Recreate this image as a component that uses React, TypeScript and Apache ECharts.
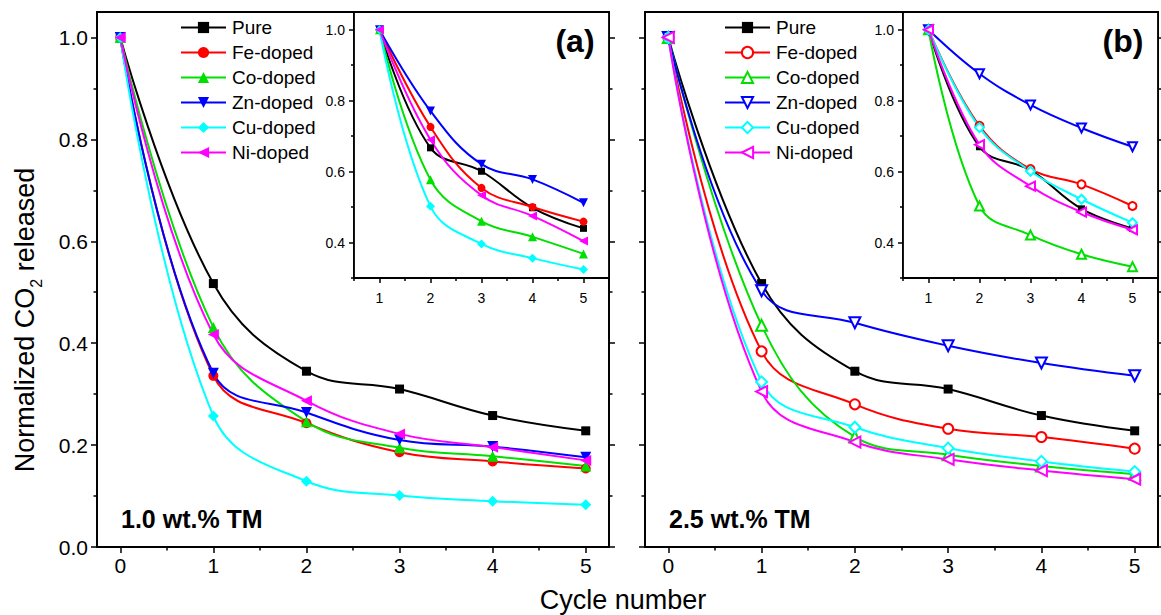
import React, { useEffect, useRef } from 'react';
import * as echarts from 'echarts';

// ---------- DATA ----------
const seriesNames = ['Pure', 'Fe-doped', 'Co-doped', 'Zn-doped', 'Cu-doped', 'Ni-doped'];
const colors = ['#000000', '#ff0000', '#00e000', '#0000ff', '#00ffff', '#ff00ff'];

const mainCycles = [0, 1, 2, 3, 4, 5];
const insetCycles = [1, 2, 3, 4, 5];

// Panel (a): 1.0 wt.% TM
const aPure = [1.0, 0.517, 0.345, 0.310, 0.258, 0.228];
const aFe = [1.0, 0.336, 0.243, 0.186, 0.168, 0.154];
const aCo = [1.0, 0.431, 0.246, 0.195, 0.178, 0.159];
const aZn = [1.0, 0.341, 0.264, 0.210, 0.197, 0.176];
const aCu = [1.0, 0.257, 0.129, 0.101, 0.090, 0.083];
const aNi = [1.0, 0.417, 0.287, 0.222, 0.196, 0.170];

// Inset (a)
const aInPure = [1.0, 0.667, 0.601, 0.498, 0.440];
const aInFe = [1.0, 0.726, 0.554, 0.500, 0.459];
const aInCo = [1.0, 0.577, 0.460, 0.416, 0.368];
const aInZn = [1.0, 0.771, 0.621, 0.578, 0.512];
const aInCu = [1.0, 0.502, 0.396, 0.356, 0.324];
const aInNi = [1.0, 0.690, 0.533, 0.475, 0.404];

// Panel (b): 2.5 wt.% TM
const bPure = [1.0, 0.517, 0.345, 0.310, 0.258, 0.228];
const bFe = [1.0, 0.384, 0.280, 0.232, 0.216, 0.193];
const bCo = [1.0, 0.435, 0.216, 0.181, 0.159, 0.143];
const bZn = [1.0, 0.503, 0.440, 0.395, 0.361, 0.336];
const bCu = [1.0, 0.324, 0.235, 0.194, 0.168, 0.148];
const bNi = [1.0, 0.305, 0.206, 0.172, 0.150, 0.133];

// Inset (b)
const bInPure = [1.0, 0.670, 0.604, 0.495, 0.440];
const bInFe = [1.0, 0.729, 0.607, 0.564, 0.503];
const bInCo = [1.0, 0.503, 0.421, 0.367, 0.332];
const bInZn = [1.0, 0.876, 0.788, 0.723, 0.670];
const bInCu = [1.0, 0.724, 0.601, 0.522, 0.456];
const bInNi = [1.0, 0.676, 0.559, 0.486, 0.436];

// Tick values
const mainXTicks = [0, 1, 2, 3, 4, 5];
const mainXMinor = [0.5, 1.5, 2.5, 3.5, 4.5];
const mainYTicks = [0, 0.2, 0.4, 0.6, 0.8, 1.0];
const mainYMinor = [0.1, 0.3, 0.5, 0.7, 0.9];
const insetXTicks = [1, 2, 3, 4, 5];
const insetXMinor = [0.5, 1.5, 2.5, 3.5, 4.5, 5.5];
const insetYTicks = [0.4, 0.6, 0.8, 1.0];
const insetYMinor = [0.3, 0.5, 0.7, 0.9];

const FONT = "'Liberation Sans', Arial, sans-serif";

const symbolsA = ['rect', 'circle', 'triangle', 'triangle', 'diamond', 'triangle'];
const symbolsB = ['rect', 'emptyCircle', 'emptyTriangle', 'emptyTriangle', 'emptyDiamond', 'emptyTriangle'];
const rotations = [0, 0, 0, 180, 0, 90];
const mainSizes = [9, 10, 11, 11, 11, 11];
const insetSizes = [7, 8, 9, 9, 9, 9];

function xAxisDef(grid: number, min: number, max: number, ticks: number[], tickLen: number, showLine: boolean, label: any) {
  return {
    type: 'value', gridIndex: grid, min, max, position: 'bottom',
    axisLine: { show: showLine, onZero: false, lineStyle: { color: '#000', width: 1.8 } },
    axisTick: { show: true, inside: false, length: tickLen, customValues: ticks, lineStyle: { color: '#000', width: 1.5 } },
    axisLabel: label ? { show: true, ...label } : { show: false },
    splitLine: { show: false },
  };
}

function yAxisDef(grid: number, min: number, max: number, pos: string, ticks: number[], tickLen: number, showLine: boolean, label: any) {
  return {
    type: 'value', gridIndex: grid, min, max, position: pos,
    axisLine: { show: showLine, onZero: false, lineStyle: { color: '#000', width: 1.8 } },
    axisTick: { show: true, inside: false, length: tickLen, customValues: ticks, lineStyle: { color: '#000', width: 1.5 } },
    axisLabel: label ? { show: true, ...label } : { show: false },
    splitLine: { show: false },
  };
}

export default function App() {
  const ref = useRef<HTMLDivElement>(null);

  useEffect(() => {
    if (!ref.current) return;
    const chart = echarts.init(ref.current, undefined, { renderer: 'svg' });

    const mainA = [aPure, aFe, aCo, aZn, aCu, aNi];
    const mainB = [bPure, bFe, bCo, bZn, bCu, bNi];
    const inA = [aInPure, aInFe, aInCo, aInZn, aInCu, aInNi];
    const inB = [bInPure, bInFe, bInCo, bInZn, bInCu, bInNi];

    const mainXLabel = { customValues: mainXTicks, fontSize: 21, color: '#000', fontFamily: FONT, margin: 8, formatter: (v: number) => String(v) };
    const mainYLabel = { customValues: mainYTicks, fontSize: 21, color: '#000', fontFamily: FONT, margin: 9, formatter: (v: number) => v.toFixed(1) };
    const inXLabel = { customValues: insetXTicks, fontSize: 14, color: '#000', fontFamily: FONT, margin: 13, formatter: (v: number) => String(v) };
    const inYLabel = { customValues: insetYTicks, fontSize: 14, color: '#000', fontFamily: FONT, margin: 9, formatter: (v: number) => v.toFixed(1) };

    const xAxes = [
      xAxisDef(0, -0.25, 5.25, mainXTicks, 6, true, mainXLabel),
      xAxisDef(0, -0.25, 5.25, mainXMinor, 3.5, false, null),
      xAxisDef(1, -0.25, 5.25, mainXTicks, 6, true, mainXLabel),
      xAxisDef(1, -0.25, 5.25, mainXMinor, 3.5, false, null),
      xAxisDef(2, 0.5, 5.5, insetXTicks, 5, true, inXLabel),
      xAxisDef(2, 0.5, 5.5, insetXMinor, 3, false, null),
      xAxisDef(3, 0.5, 5.5, insetXTicks, 5, true, inXLabel),
      xAxisDef(3, 0.5, 5.5, insetXMinor, 3, false, null),
    ];

    const yAxes = [
      yAxisDef(0, 0, 1.05, 'left', mainYTicks, 6, true, mainYLabel),
      yAxisDef(0, 0, 1.05, 'left', mainYMinor, 3.5, false, null),
      yAxisDef(0, 0, 1.05, 'right', mainYTicks, 6, true, null),
      yAxisDef(0, 0, 1.05, 'right', mainYMinor, 3.5, false, null),
      yAxisDef(1, 0, 1.05, 'left', mainYTicks, 6, true, null),
      yAxisDef(1, 0, 1.05, 'left', mainYMinor, 3.5, false, null),
      yAxisDef(1, 0, 1.05, 'right', mainYTicks, 6, true, null),
      yAxisDef(1, 0, 1.05, 'right', mainYMinor, 3.5, false, null),
      yAxisDef(2, 0.3, 1.05, 'left', insetYTicks, 5, true, inYLabel),
      yAxisDef(2, 0.3, 1.05, 'left', insetYMinor, 3, false, null),
      yAxisDef(3, 0.3, 1.05, 'left', insetYTicks, 5, true, inYLabel),
      yAxisDef(3, 0.3, 1.05, 'left', insetYMinor, 3, false, null),
    ];

    const series: any[] = [];
    const mk = (prefix: string, vals: number[][], xs: number[], xi: number, yi: number, syms: string[], sizes: number[], z: number) => {
      vals.forEach((v, i) => {
        series.push({
          name: prefix + seriesNames[i],
          type: 'line',
          xAxisIndex: xi,
          yAxisIndex: yi,
          data: xs.map((x, k) => [x, v[k]]),
          smooth: 0.4,
          symbol: syms[i],
          symbolSize: sizes[i],
          symbolRotate: rotations[i],
          color: colors[i],
          lineStyle: { color: colors[i], width: 2 },
          itemStyle: { color: colors[i] },
          z,
        });
      });
    };
    mk('a:', mainA, mainCycles, 0, 0, symbolsA, mainSizes, 2);
    mk('b:', mainB, mainCycles, 2, 4, symbolsB, mainSizes, 2);
    mk('ai:', inA, insetCycles, 4, 8, symbolsA, insetSizes, 6);
    mk('bi:', inB, insetCycles, 6, 10, symbolsB, insetSizes, 6);

    const legendBase = {
      orient: 'vertical',
      top: 13,
      itemWidth: 45,
      itemHeight: 14,
      itemGap: 6,
      selectedMode: false,
      textStyle: { fontSize: 19, color: '#000', fontFamily: FONT, padding: [0, 0, 0, 1] },
      formatter: (n: string) => n.replace(/^[a-z]+:/, ''),
    };

    chart.setOption({
      animation: false,
      backgroundColor: '#fff',
      grid: [
        { left: 97, top: 12, width: 512, height: 535, show: true, borderColor: '#000', borderWidth: 1.8, backgroundColor: 'transparent', containLabel: false },
        { left: 645, top: 12, width: 513, height: 535, show: true, borderColor: '#000', borderWidth: 1.8, backgroundColor: 'transparent', containLabel: false },
        { left: 354, top: 12, width: 255, height: 266, show: true, borderColor: '#000', borderWidth: 1.8, backgroundColor: '#fff', containLabel: false, z: 4 },
        { left: 903, top: 12, width: 255, height: 266, show: true, borderColor: '#000', borderWidth: 1.8, backgroundColor: '#fff', containLabel: false, z: 4 },
      ],
      xAxis: xAxes,
      yAxis: yAxes,
      legend: [
        { ...legendBase, left: 175, data: seriesNames.map((n) => 'a:' + n) },
        { ...legendBase, left: 719, data: seriesNames.map((n) => 'b:' + n) },
      ],
      graphic: [
        {
          type: 'text', x: 25, y: 320, rotation: Math.PI / 2,
          style: {
            text: 'Normalized CO{sub|2} released', fontSize: 27, fill: '#000', fontFamily: FONT, align: 'center', verticalAlign: 'middle', lineHeight: 38,
            rich: { sub: { fontSize: 16, fontFamily: FONT, fill: '#000', lineHeight: 16, verticalAlign: 'bottom' } },
          },
          z: 10,
        },
        { type: 'text', x: 575, y: 41, style: { text: '(a)', fontSize: 32, fontWeight: 'bold', fill: '#000', fontFamily: FONT, align: 'center', verticalAlign: 'middle' }, z: 10 },
        { type: 'text', x: 1123, y: 41, style: { text: '(b)', fontSize: 32, fontWeight: 'bold', fill: '#000', fontFamily: FONT, align: 'center', verticalAlign: 'middle' }, z: 10 },
        { type: 'text', x: 121, y: 519, style: { text: '1.0 wt.% TM', fontSize: 25, fontWeight: 'bold', fill: '#000', fontFamily: FONT, align: 'left', verticalAlign: 'middle' }, z: 10 },
        { type: 'text', x: 669, y: 519, style: { text: '2.5 wt.% TM', fontSize: 25, fontWeight: 'bold', fill: '#000', fontFamily: FONT, align: 'left', verticalAlign: 'middle' }, z: 10 },
        { type: 'text', x: 623, y: 600, style: { text: 'Cycle number', fontSize: 27, fill: '#000', fontFamily: FONT, align: 'center', verticalAlign: 'middle' }, z: 10 },
      ],
      series,
    });

    return () => chart.dispose();
  }, []);

  return <div ref={ref} style={{ position: 'fixed', left: 0, top: 0, width: 1161, height: 615 }} />;
}
